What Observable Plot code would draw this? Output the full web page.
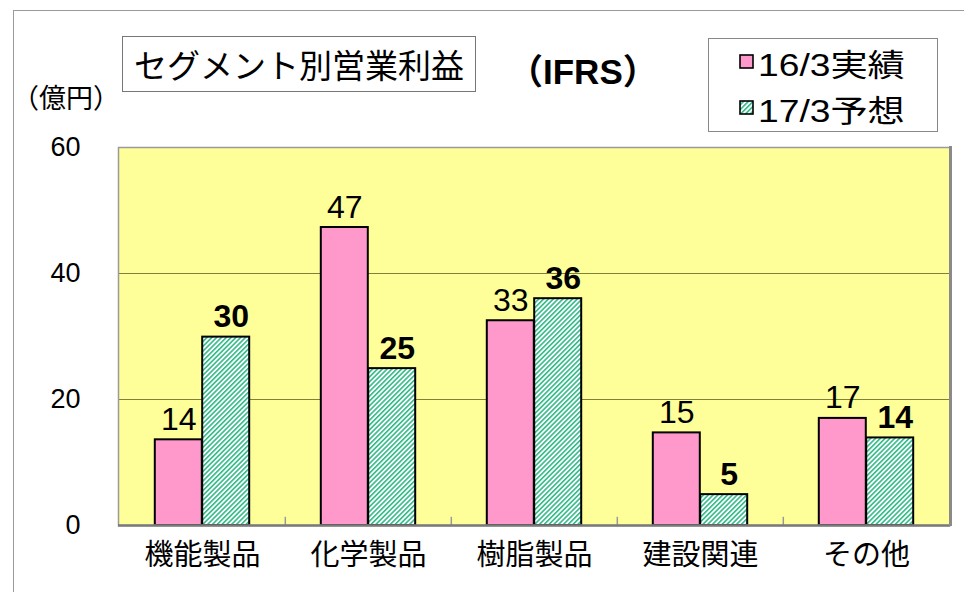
<!DOCTYPE html>
<html><head><meta charset="utf-8">
<script src="https://cdn.jsdelivr.net/npm/d3@7"></script>
<script src="https://cdn.jsdelivr.net/npm/@observablehq/plot@0.6"></script>
<style>
body{margin:0;background:#fff;}
#wrap{position:relative;width:969px;height:592px;overflow:hidden;font-family:"Liberation Sans","Noto Sans CJK JP",sans-serif;color:#000;}
#wrap svg{position:absolute;left:0;top:0;}
.ov{position:absolute;white-space:nowrap;color:#000;}
#outer{position:absolute;left:13px;top:10px;width:950px;height:700px;border-left:1.5px solid #9a9a9a;border-top:1.5px solid #9a9a9a;}
#title{left:122px;top:36px;width:352px;height:54px;border:1.5px solid #777;font-family:"Noto Sans CJK JP",sans-serif;font-size:33px;line-height:54px;text-align:center;}
#unit{left:12px;top:79px;font-family:"Noto Sans CJK JP",sans-serif;font-size:27px;line-height:36px;}
#ifrs{left:508px;top:48px;font-family:"Liberation Sans","Noto Sans CJK JP",sans-serif;font-weight:bold;font-size:35px;line-height:48px;}
#legend{left:708px;top:38px;width:228px;height:92px;border:1.5px solid #888;background:#fff;}
.lrow{position:absolute;left:30px;height:46px;display:flex;align-items:center;}
.lrow svg{position:static !important;margin-right:3px;}
.ltxt{font-family:"Liberation Sans","Noto Sans CJK JP",sans-serif;font-size:31px;transform:scaleX(1.2);transform-origin:left center;display:inline-block;}
</style></head>
<body>
<div id="wrap">
  <div id="outer"></div>
</div>
<script>
// ---- data ----
const categories = ["機能製品", "化学製品", "樹脂製品", "建設関連", "その他"];
const series = ["16/3実績", "17/3予想"];
const actual = [13.6, 47.3, 32.5, 14.7, 17.0];
const forecast = [29.9, 24.9, 36.0, 4.9, 13.9];
const actualLabels = ["14", "47", "33", "15", "17"];
const forecastLabels = ["30", "25", "36", "5", "14"];
const yTicks = [0, 20, 40, 60];
const gridValues = [20, 40];
const titleText = "セグメント別営業利益";
const unitText = "（億円）";
const basisText = "（IFRS）";

// ---- layout/style ----
const W = 969, H = 592;
const mL = 118, mR = 19, mT = 147, mB = 67;
const bw = (W - mL - mR) / categories.length;
const gapOuter = 35.8;
const barW = bw / 2 - gapOuter;
const pink = "#FF99CC";
const hatchGreen = "#33BB88";
const cjk = "'Noto Sans CJK JP', sans-serif";
const sans = "'Liberation Sans', sans-serif";

const rows = categories.map((c, i) => ({
  category: c, actual: actual[i], forecast: forecast[i],
  aLabel: actualLabels[i], fLabel: forecastLabels[i]
}));

const chart = Plot.plot({
  width: W, height: H,
  marginLeft: mL, marginRight: mR, marginTop: mT, marginBottom: mB,
  style: {background: "transparent", fontFamily: sans, color: "#000"},
  x: {domain: categories, padding: 0, label: null},
  y: {domain: [0, 60], ticks: yTicks, label: null},
  marks: [
    Plot.frame({fill: "#FFFF99", stroke: "none"}),
    Plot.ruleY(gridValues, {stroke: "#80803a", strokeWidth: 1}),
    Plot.ruleX(categories.slice(1), {x: d => d, dx: -bw / 2, y1: 0, y2: 1.3, stroke: "#999", strokeWidth: 1.5}),
    Plot.barY(rows, {x: "category", y: "actual", fill: pink, stroke: "#000", strokeWidth: 2,
      insetLeft: gapOuter, insetRight: bw / 2}),
    Plot.barY(rows, {x: "category", y: "forecast", fill: "url(#hatch)", stroke: "#000", strokeWidth: 2,
      insetLeft: bw / 2, insetRight: gapOuter}),
    Plot.text(rows, {x: "category", y: "actual", text: "aLabel", dx: -barW / 2, dy: -10,
      lineAnchor: "bottom", fontSize: 32, fontFamily: sans, fill: "#000"}),
    Plot.text(rows, {x: "category", y: "forecast", text: "fLabel", dx: barW / 2 + 5, dy: -10,
      lineAnchor: "bottom", fontSize: 32, fontWeight: "bold", fontFamily: sans, fill: "#000"}),
    Plot.frame({stroke: "#9a9a9a", strokeWidth: 1.5}),
    Plot.ruleY([0], {stroke: "#7a7a7a", strokeWidth: 2.5}),
    Plot.axisY({ticks: yTicks, tickSize: 0, tickPadding: 38, fontSize: 27, label: null}),
    Plot.axisX({tickSize: 0, tickPadding: 19, fontSize: 29, fontFamily: cjk, label: null})
  ]
});

// hatch pattern defs
function hatchDef(id) {
  return `<pattern id="${id}" patternUnits="userSpaceOnUse" width="3.4" height="3.4" patternTransform="rotate(45)">
      <rect width="3.4" height="3.4" fill="#ffffff"/>
      <rect width="1.6" height="3.4" fill="${hatchGreen}"/>
    </pattern>`;
}
const ns = "http://www.w3.org/2000/svg";
const defs = document.createElementNS(ns, "defs");
defs.innerHTML = hatchDef("hatch");
chart.insertBefore(defs, chart.firstChild);

const wrap = document.getElementById("wrap");
wrap.appendChild(chart);

// right border of plot area (thicker, like the original)
const rb = document.createElement("div");
rb.style.cssText = `position:absolute;left:${W - mR - 1}px;top:${mT - 1}px;width:3px;height:${H - mT - mB + 2}px;background:#8a8a8a;`;
wrap.appendChild(rb);

function ov(id, text) {
  const d = document.createElement("div");
  d.className = "ov"; d.id = id; d.textContent = text;
  wrap.appendChild(d);
  return d;
}
ov("title", titleText);
ov("unit", unitText);
ov("ifrs", basisText);

const lg = document.createElement("div");
lg.className = "ov"; lg.id = "legend";
const swatchFills = [pink, "url(#hatch2)"];
series.forEach((s, i) => {
  const r = document.createElement("div");
  r.className = "lrow";
  r.style.top = (i * 46) + "px";
  r.innerHTML = `<svg width="16" height="16" viewBox="0 0 16 16">
     ${i === 1 ? `<defs>${hatchDef("hatch2")}</defs>` : ""}
     <rect x="1" y="1" width="13" height="13" fill="${swatchFills[i]}" stroke="#000" stroke-width="1.6"/></svg>
     <span class="ltxt">${s}</span>`;
  lg.appendChild(r);
});
wrap.appendChild(lg);
</script>
</body></html>
